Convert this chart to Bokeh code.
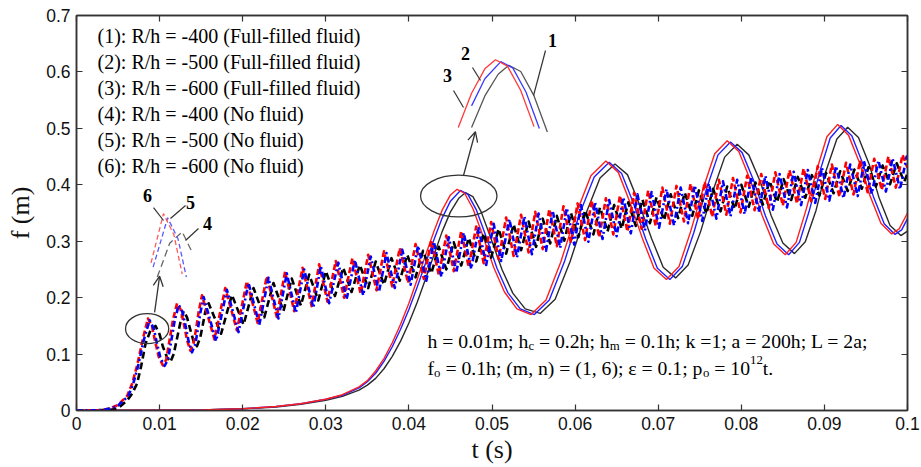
from bokeh.plotting import figure
from bokeh.models import (Range1d, FixedTicker, LinearAxis, CustomJSTickFormatter,
                          Label, Arrow, OpenHead)
from bokeh.embed import file_html
from bokeh.resources import INLINE

# ---------------- data ----------------
X_TICKS = [0, 0.01, 0.02, 0.03, 0.04, 0.05, 0.06, 0.07, 0.08, 0.09, 0.1]
Y_TICKS = [0, 0.1, 0.2, 0.3, 0.4, 0.5, 0.6, 0.7]
X_LABEL = "t (s)"
Y_LABEL = "f (m)"

LEGEND_LINES = [
    "(1): R/h = -400 (Full-filled fluid)",
    "(2): R/h = -500 (Full-filled fluid)",
    "(3): R/h = -600 (Full-filled fluid)",
    "(4): R/h = -400 (No fluid)",
    "(5): R/h = -500 (No fluid)",
    "(6): R/h = -600 (No fluid)",
]

# (1) R/h=-400 full-filled fluid (solid, dark grey)
t_full_400 = [0, 0.01, 0.015, 0.02, 0.024, 0.027, 0.03, 0.032, 0.034, 0.035,
              0.036, 0.037, 0.038, 0.039, 0.04, 0.041, 0.042, 0.043, 0.044, 0.045,
              0.046, 0.0468, 0.0477, 0.0487, 0.0497, 0.0512, 0.0525, 0.054, 0.0558, 0.0576,
              0.0594, 0.0612, 0.063, 0.0648, 0.0663, 0.0677, 0.0692, 0.0706, 0.0721, 0.0736,
              0.0751, 0.0766, 0.078, 0.0795, 0.0809, 0.0823, 0.0836, 0.085, 0.0864, 0.0877,
              0.089, 0.0902, 0.0915, 0.0928, 0.0941, 0.0954, 0.0966, 0.0979, 0.0992, 0.1]
f_full_400 = [0, 0.0005, 0.001, 0.003, 0.006, 0.011, 0.018, 0.025, 0.036, 0.045,
              0.057, 0.074, 0.096, 0.123, 0.155, 0.192, 0.233, 0.275, 0.317, 0.352,
              0.376, 0.386, 0.379, 0.352, 0.312, 0.25, 0.208, 0.18, 0.172, 0.197,
              0.264, 0.345, 0.412, 0.437, 0.418, 0.367, 0.305, 0.254, 0.235, 0.258,
              0.317, 0.39, 0.449, 0.472, 0.453, 0.405, 0.345, 0.297, 0.278, 0.299,
              0.355, 0.425, 0.481, 0.502, 0.484, 0.436, 0.376, 0.328, 0.31, 0.318]

# (2) R/h=-500 full-filled fluid (solid, blue)
t_full_500 = [0, 0.01, 0.015, 0.02, 0.024, 0.027, 0.03, 0.032, 0.034, 0.035,
              0.036, 0.037, 0.038, 0.039, 0.04, 0.041, 0.042, 0.043, 0.044, 0.045,
              0.0462, 0.0471, 0.0481, 0.0491, 0.0506, 0.0519, 0.0534, 0.0551, 0.0569, 0.0587,
              0.0605, 0.0623, 0.0641, 0.0656, 0.067, 0.0685, 0.0699, 0.0714, 0.0729, 0.0743,
              0.0758, 0.0772, 0.0787, 0.0801, 0.0815, 0.0829, 0.0843, 0.0857, 0.087, 0.0882,
              0.0895, 0.0907, 0.092, 0.0933, 0.0946, 0.0959, 0.0972, 0.0985, 0.0993, 0.1]
f_full_500 = [0, 0.0005, 0.001, 0.003, 0.007, 0.012, 0.02, 0.027, 0.04, 0.051,
              0.066, 0.087, 0.113, 0.144, 0.179, 0.219, 0.261, 0.302, 0.341, 0.371,
              0.39, 0.383, 0.356, 0.316, 0.252, 0.209, 0.18, 0.17, 0.196, 0.263,
              0.347, 0.414, 0.44, 0.42, 0.368, 0.304, 0.252, 0.232, 0.255, 0.316,
              0.392, 0.453, 0.476, 0.457, 0.407, 0.345, 0.295, 0.276, 0.298, 0.355,
              0.426, 0.483, 0.505, 0.487, 0.438, 0.379, 0.331, 0.312, 0.32, 0.34]

# (3) R/h=-600 full-filled fluid (solid, red)
t_full_600 = [0, 0.01, 0.015, 0.02, 0.024, 0.027, 0.03, 0.032, 0.034, 0.035,
              0.036, 0.037, 0.038, 0.039, 0.04, 0.041, 0.042, 0.043, 0.044, 0.045,
              0.0458, 0.0467, 0.0477, 0.0487, 0.0502, 0.0515, 0.053, 0.0547, 0.0565, 0.0583,
              0.0601, 0.0619, 0.0637, 0.0652, 0.0666, 0.0681, 0.0695, 0.071, 0.0725, 0.0739,
              0.0754, 0.0768, 0.0783, 0.0797, 0.0811, 0.0825, 0.0839, 0.0853, 0.0866, 0.0878,
              0.0891, 0.0903, 0.0916, 0.0929, 0.0942, 0.0955, 0.0968, 0.0981, 0.099, 0.1]
f_full_600 = [0, 0.0005, 0.001, 0.003, 0.007, 0.012, 0.02, 0.028, 0.042, 0.053,
              0.07, 0.092, 0.12, 0.153, 0.19, 0.232, 0.275, 0.317, 0.355, 0.382,
              0.392, 0.385, 0.358, 0.318, 0.254, 0.21, 0.18, 0.17, 0.196, 0.264,
              0.348, 0.416, 0.442, 0.422, 0.369, 0.305, 0.252, 0.232, 0.255, 0.317,
              0.393, 0.455, 0.478, 0.459, 0.408, 0.346, 0.295, 0.276, 0.298, 0.356,
              0.427, 0.485, 0.507, 0.488, 0.44, 0.38, 0.332, 0.313, 0.322, 0.35]

# (4) R/h=-400 no fluid (black dashed) : (t, f)
nofluid_400 = [
    (0, 0), (0.004, 0.001), (0.005, 0.004), (0.0061, 0.018), (0.0067, 0.03), (0.0073, 0.048),
    (0.0078, 0.08), (0.0083, 0.118), (0.0089, 0.142), (0.0095, 0.15), (0.01, 0.135),
    (0.0104, 0.113), (0.0109, 0.094), (0.0113, 0.086), (0.0117, 0.1), (0.0121, 0.128),
    (0.0125, 0.156), (0.0129, 0.176), (0.0133, 0.165), (0.0137, 0.143), (0.0141, 0.122),
    (0.0145, 0.114), (0.0149, 0.13), (0.0152, 0.152), (0.0155, 0.175), (0.0159, 0.19),
    (0.0174, 0.136), (0.0187, 0.205), (0.0201, 0.152), (0.0213, 0.217), (0.0226, 0.165),
    (0.0237, 0.226), (0.0249, 0.176), (0.0259, 0.234), (0.027, 0.186), (0.028, 0.241),
    (0.0291, 0.195), (0.03, 0.247), (0.0311, 0.203), (0.0321, 0.253), (0.0331, 0.21),
    (0.0341, 0.258), (0.0351, 0.217), (0.036, 0.264), (0.037, 0.223), (0.0379, 0.27),
    (0.0389, 0.23), (0.0398, 0.276), (0.0408, 0.236), (0.0417, 0.283), (0.0427, 0.243),
    (0.0436, 0.29), (0.0445, 0.25), (0.0454, 0.298), (0.0463, 0.257), (0.0472, 0.306),
    (0.0481, 0.264), (0.049, 0.314), (0.0499, 0.271), (0.0508, 0.322), (0.0517, 0.278),
    (0.0526, 0.33), (0.0535, 0.284), (0.0544, 0.335), (0.0553, 0.29), (0.0561, 0.34),
    (0.057, 0.296), (0.0578, 0.345), (0.0587, 0.301), (0.0595, 0.35), (0.0604, 0.307),
    (0.0612, 0.355), (0.0622, 0.312), (0.063, 0.36), (0.0639, 0.317), (0.0647, 0.364),
    (0.0656, 0.322), (0.0664, 0.369), (0.0673, 0.327), (0.0681, 0.374), (0.069, 0.332),
    (0.0698, 0.378), (0.0707, 0.337), (0.0715, 0.383), (0.0724, 0.341), (0.0732, 0.386),
    (0.0741, 0.345), (0.0749, 0.39), (0.0758, 0.349), (0.0766, 0.393), (0.0775, 0.353),
    (0.0783, 0.397), (0.0792, 0.357), (0.08, 0.4), (0.0809, 0.361), (0.0817, 0.404),
    (0.0826, 0.365), (0.0834, 0.407), (0.0843, 0.369), (0.0851, 0.41), (0.086, 0.373),
    (0.0868, 0.414), (0.0877, 0.377), (0.0885, 0.417), (0.0894, 0.381), (0.0902, 0.421),
    (0.0911, 0.385), (0.0919, 0.424), (0.0928, 0.389), (0.0936, 0.427), (0.0945, 0.393),
    (0.0953, 0.431), (0.0962, 0.397), (0.097, 0.434), (0.0979, 0.401), (0.0987, 0.438),
    (0.0996, 0.405), (0.1, 0.42)]

# (5) R/h=-500 no fluid (blue dash-dot)
nofluid_500 = [
    (0, 0), (0.003, 0.0005), (0.0042, 0.004), (0.005, 0.009), (0.0062, 0.025), (0.0068, 0.046),
    (0.0074, 0.078), (0.0081, 0.125), (0.0088, 0.16), (0.0093, 0.145), (0.0097, 0.118),
    (0.0101, 0.093), (0.0106, 0.079), (0.011, 0.09), (0.0114, 0.123), (0.0118, 0.158),
    (0.0123, 0.187), (0.0127, 0.177), (0.0131, 0.152), (0.0135, 0.122), (0.0139, 0.103),
    (0.0143, 0.118), (0.0146, 0.143), (0.0149, 0.173), (0.0153, 0.201),
    (0.0168, 0.123), (0.0181, 0.214), (0.0195, 0.139), (0.0207, 0.226), (0.022, 0.152),
    (0.0231, 0.235), (0.0243, 0.163), (0.0253, 0.243), (0.0264, 0.173), (0.0274, 0.25),
    (0.0285, 0.182), (0.0294, 0.256), (0.0304, 0.19), (0.0315, 0.262), (0.0325, 0.197),
    (0.0335, 0.267), (0.0345, 0.204), (0.0354, 0.273), (0.0364, 0.21), (0.0373, 0.279),
    (0.0383, 0.217), (0.0392, 0.285), (0.0402, 0.223), (0.0411, 0.292), (0.0421, 0.23),
    (0.043, 0.299), (0.0439, 0.237), (0.0448, 0.307), (0.0457, 0.244), (0.0466, 0.315),
    (0.0475, 0.251), (0.0484, 0.323), (0.0493, 0.258), (0.0502, 0.331), (0.0511, 0.265),
    (0.0521, 0.339), (0.053, 0.271), (0.0539, 0.344), (0.0548, 0.277), (0.0556, 0.349),
    (0.0565, 0.283), (0.0573, 0.354), (0.0582, 0.288), (0.059, 0.359), (0.0599, 0.294),
    (0.0607, 0.364), (0.0616, 0.299), (0.0624, 0.369), (0.0633, 0.304), (0.0641, 0.373),
    (0.065, 0.309), (0.0658, 0.378), (0.0667, 0.314), (0.0675, 0.383), (0.0684, 0.319),
    (0.0692, 0.387), (0.0701, 0.324), (0.071, 0.392), (0.0719, 0.328), (0.0727, 0.395),
    (0.0736, 0.332), (0.0744, 0.399), (0.0753, 0.336), (0.0761, 0.402), (0.077, 0.34),
    (0.0778, 0.406), (0.0787, 0.344), (0.0795, 0.409), (0.0804, 0.348), (0.0812, 0.413),
    (0.0821, 0.352), (0.0829, 0.416), (0.0838, 0.356), (0.0846, 0.419), (0.0855, 0.36),
    (0.0863, 0.423), (0.0872, 0.364), (0.088, 0.426), (0.0889, 0.368), (0.0897, 0.43),
    (0.0906, 0.372), (0.0914, 0.433), (0.0923, 0.376), (0.0931, 0.436), (0.094, 0.38),
    (0.0948, 0.44), (0.0957, 0.384), (0.0965, 0.443), (0.0974, 0.388), (0.0982, 0.447),
    (0.0991, 0.392), (0.0999, 0.45), (0.1, 0.449)]

# (6) R/h=-600 no fluid (red dashed)
nofluid_600 = [
    (0, 0), (0.003, 0.0005), (0.0041, 0.004), (0.005, 0.01), (0.0061, 0.026), (0.0067, 0.048),
    (0.0073, 0.08), (0.008, 0.128), (0.0086, 0.163), (0.0091, 0.148), (0.0095, 0.12),
    (0.0099, 0.095), (0.0104, 0.08), (0.0108, 0.09), (0.0112, 0.125), (0.0116, 0.16),
    (0.0121, 0.19), (0.0125, 0.18), (0.0129, 0.155), (0.0133, 0.125), (0.0137, 0.106),
    (0.0141, 0.12), (0.0144, 0.145), (0.0147, 0.175), (0.0151, 0.204),
    (0.0166, 0.126), (0.0179, 0.217), (0.0193, 0.142), (0.0205, 0.229), (0.0218, 0.155),
    (0.0229, 0.238), (0.0241, 0.166), (0.0251, 0.246), (0.0262, 0.176), (0.0272, 0.253),
    (0.0283, 0.185), (0.0292, 0.259), (0.0302, 0.193), (0.0312, 0.265), (0.0322, 0.2),
    (0.0332, 0.27), (0.0342, 0.207), (0.0351, 0.276), (0.0361, 0.213), (0.037, 0.282),
    (0.038, 0.22), (0.0389, 0.288), (0.0399, 0.226), (0.0408, 0.295), (0.0418, 0.233),
    (0.0427, 0.302), (0.0436, 0.24), (0.0445, 0.31), (0.0454, 0.247), (0.0463, 0.318),
    (0.0472, 0.254), (0.0481, 0.326), (0.049, 0.261), (0.0499, 0.334), (0.0508, 0.268),
    (0.0517, 0.342), (0.0526, 0.274), (0.0535, 0.347), (0.0544, 0.28), (0.0552, 0.352),
    (0.0561, 0.286), (0.0569, 0.357), (0.0578, 0.291), (0.0586, 0.362), (0.0595, 0.297),
    (0.0603, 0.367), (0.0612, 0.302), (0.062, 0.372), (0.0629, 0.307), (0.0637, 0.376),
    (0.0646, 0.312), (0.0654, 0.381), (0.0663, 0.317), (0.0671, 0.386), (0.068, 0.322),
    (0.0688, 0.39), (0.0697, 0.327), (0.0705, 0.395), (0.0714, 0.331), (0.0722, 0.398),
    (0.0731, 0.335), (0.0739, 0.402), (0.0748, 0.339), (0.0756, 0.405), (0.0765, 0.343),
    (0.0773, 0.409), (0.0782, 0.347), (0.079, 0.412), (0.0799, 0.351), (0.0807, 0.416),
    (0.0816, 0.355), (0.0824, 0.419), (0.0833, 0.359), (0.0841, 0.422), (0.085, 0.363),
    (0.0858, 0.426), (0.0867, 0.367), (0.0875, 0.429), (0.0884, 0.371), (0.0892, 0.433),
    (0.0901, 0.375), (0.0909, 0.436), (0.0918, 0.379), (0.0926, 0.439), (0.0935, 0.383),
    (0.0943, 0.443), (0.0952, 0.387), (0.096, 0.446), (0.0969, 0.391), (0.0977, 0.45),
    (0.0986, 0.395), (0.0994, 0.453), (0.1, 0.43)]

# ---------------- figure ----------------
SERIF = "Liberation Serif"
SANS = "Liberation Sans"
FRAME = "#333333"

p = figure(width=921, height=467, x_range=Range1d(0, 0.1), y_range=Range1d(0, 0.7),
           output_backend="svg", toolbar_location=None,
           min_border_left=76, min_border_right=14, min_border_top=15, min_border_bottom=57)
p.grid.visible = False
p.background_fill_color = "white"
p.border_fill_color = "white"
p.outline_line_color = FRAME
p.outline_line_width = 1.5

fmt = CustomJSTickFormatter(code="return String(Math.round(tick*1000)/1000);")
blank = CustomJSTickFormatter(code="return '';")


def style_axis(ax, ticks, show_labels):
    ax.ticker = FixedTicker(ticks=ticks)
    ax.formatter = fmt if show_labels else blank
    ax.major_tick_in = 6
    ax.major_tick_out = 0
    ax.minor_tick_line_color = None
    ax.axis_line_color = FRAME
    ax.axis_line_width = 1.5
    ax.major_tick_line_color = FRAME
    ax.major_tick_line_width = 1.2
    if show_labels:
        ax.major_label_text_font = SANS
        ax.major_label_text_font_size = "17.5px"
        ax.major_label_text_color = "#111111"
        ax.axis_label_text_font = SERIF
        ax.axis_label_text_font_size = "26px"
        ax.axis_label_text_font_style = "normal"
        ax.axis_label_text_color = "#111111"
    else:
        ax.major_label_text_font_size = "1px"
        ax.major_label_standoff = 0


style_axis(p.xaxis[0], X_TICKS, True)
style_axis(p.yaxis[0], Y_TICKS, True)
p.xaxis[0].axis_label = X_LABEL
p.yaxis[0].axis_label = Y_LABEL
p.xaxis[0].major_label_standoff = 6
p.xaxis[0].axis_label_standoff = 2
p.yaxis[0].major_label_standoff = 6
p.yaxis[0].axis_label_standoff = 8

top_ax = LinearAxis()
right_ax = LinearAxis()
style_axis(top_ax, X_TICKS, False)
style_axis(right_ax, Y_TICKS, False)
p.add_layout(top_ax, "above")
p.add_layout(right_ax, "right")

# ----- curves -----
p.line(t_full_400, f_full_400, line_color="#2a2a2a", line_width=1.4)
p.line(t_full_500, f_full_500, line_color="#1f1fff", line_width=1.4)
p.line(t_full_600, f_full_600, line_color="#ff1f1f", line_width=1.4)


def xs(pairs):
    return [a for a, _ in pairs]


def ys(pairs):
    return [b for _, b in pairs]


p.line(xs(nofluid_400), ys(nofluid_400), line_color="#000000", line_width=2.6,
       line_dash="7 4", line_join="round")
p.line(xs(nofluid_600), ys(nofluid_600), line_color="#ff0000", line_width=2.6,
       line_dash="6 3", line_join="round")
p.line(xs(nofluid_500), ys(nofluid_500), line_color="#0000ff", line_width=2.6,
       line_dash="6 3 2 3", line_join="round")


# ----- magnified insets (same data, scaled about the peak) -----
def inset(ts, fs, t_lo, t_hi, f_cut, tp, fp, ax, ay, k):
    pts = [(t, f) for t, f in zip(ts, fs) if t_lo <= t <= t_hi and f >= f_cut]
    return ([ax + (t - tp) * k for t, _ in pts], [ay + (f - fp) * k for _, f in pts])


# inset 1: peaks of no-fluid curves near t = 0.0087
I1 = dict(t_lo=0.0075, t_hi=0.0106, f_cut=0.115, tp=0.0086, fp=0.163, ax=0.01047, ay=0.349, k=2.5)
for pairs, col, dash in [(nofluid_400, "#666666", "7 4"), (nofluid_500, "#5a5aff", "5 3"),
                         (nofluid_600, "#ff5a5a", "5 3")]:
    x, y = inset(xs(pairs), ys(pairs), **I1)
    p.line(x, y, line_color=col, line_width=1.3, line_dash=dash)

# inset 2: peaks of full-filled curves near t = 0.046
I2 = dict(t_lo=0.042, t_hi=0.0505, f_cut=0.31, tp=0.0458, fp=0.392, ax=0.05042, ay=0.6215, k=1.6)
for ts, fs, col in [(t_full_400, f_full_400, "#555555"), (t_full_500, f_full_500, "#3a3aff"),
                    (t_full_600, f_full_600, "#ff3a3a")]:
    x, y = inset(ts, fs, **I2)
    p.line(x, y, line_color=col, line_width=1.3)

# ellipses around peaks and arrows to insets
p.ellipse(x=[0.0085, 0.0460], y=[0.145, 0.380], width=[0.0052, 0.0092], height=[0.053, 0.074],
          fill_color=None, line_color=FRAME, line_width=1.3)
for (x0, y0, x1, y1) in [(0.0094, 0.174, 0.0100, 0.238), (0.04657, 0.4165, 0.0480, 0.494)]:
    p.add_layout(Arrow(end=OpenHead(size=10, line_color=FRAME, line_width=1.3),
                       x_start=x0, y_start=y0, x_end=x1, y_end=y1,
                       line_color=FRAME, line_width=1.3))

# curve number labels with leader lines
NUM_LABELS = [("6", 0.00854, 0.381), ("5", 0.01372, 0.3686), ("4", 0.01576, 0.3314),
              ("3", 0.04465, 0.5937), ("2", 0.04681, 0.6326), ("1", 0.05728, 0.6557)]
LEADERS = [(0.00927, 0.3597, 0.01047, 0.3367), (0.01312, 0.3633, 0.01131, 0.3402),
           (0.01468, 0.3225, 0.01312, 0.3013), (0.04537, 0.5671, 0.04657, 0.5369),
           (0.04765, 0.6078, 0.04862, 0.5848), (0.05644, 0.638, 0.0550, 0.5582)]
p.segment(x0=[a[0] for a in LEADERS], y0=[a[1] for a in LEADERS],
          x1=[a[2] for a in LEADERS], y1=[a[3] for a in LEADERS],
          line_color=FRAME, line_width=1.2)
for txt, x, y in NUM_LABELS:
    p.add_layout(Label(x=x, y=y, text=txt, text_font=SERIF, text_font_size="18px",
                       text_font_style="bold", text_align="center", text_baseline="middle",
                       text_color="black"))

# legend text
for i, line in enumerate(LEGEND_LINES):
    p.add_layout(Label(x=0.00253, y=0.663 - i * 0.0461, text=line, text_font=SERIF,
                       text_font_size="20px", text_baseline="middle", text_color="black"))

# parameter text with sub/superscripts
W = {' ': 0.25, '(': 0.333, ')': 0.333, ',': 0.25, '.': 0.25, ';': 0.278, ':': 0.278,
     '=': 0.564, '-': 0.333, '/': 0.278, 'a': 0.444, 'c': 0.444, 'd': 0.5, 'e': 0.444,
     'f': 0.333, 'h': 0.5, 'i': 0.278, 'k': 0.5, 'l': 0.278, 'm': 0.778, 'n': 0.5,
     'o': 0.5, 'p': 0.5, 't': 0.278, 'u': 0.5, 'L': 0.611, 'ε': 0.44}


def rich_line(pieces, x, y, size=19.7):
    off = 0.0
    for s, kind in pieces:
        fs = size if kind == "n" else size * 0.65
        dy = 0 if kind == "n" else (-5 if kind == "sub" else 8)
        lead = len(s) - len(s.lstrip(" "))
        off += lead * W[' '] * fs
        s = s.lstrip(" ")
        p.add_layout(Label(x=x, y=y, x_offset=off, y_offset=dy, text=s, text_font=SERIF,
                           text_font_size=f"{fs:.1f}px", text_baseline="alphabetic",
                           text_color="black"))
        off += sum(W.get(c, 0.5) for c in s) * fs


rich_line([("h = 0.01m; h", "n"), ("c", "sub"), (" = 0.2h; h", "n"), ("m", "sub"),
           (" = 0.1h; k =1; a = 200h; L = 2a;", "n")], 0.04224, 0.1226)
rich_line([("f", "n"), ("o", "sub"), (" = 0.1h; (m, n) = (1, 6); ε = 0.1; p", "n"),
           ("o", "sub"), (" = 10", "n"), ("12", "sup"), ("t.", "n")], 0.04224, 0.0748)

open("out.html", "w").write(file_html(p, INLINE))
